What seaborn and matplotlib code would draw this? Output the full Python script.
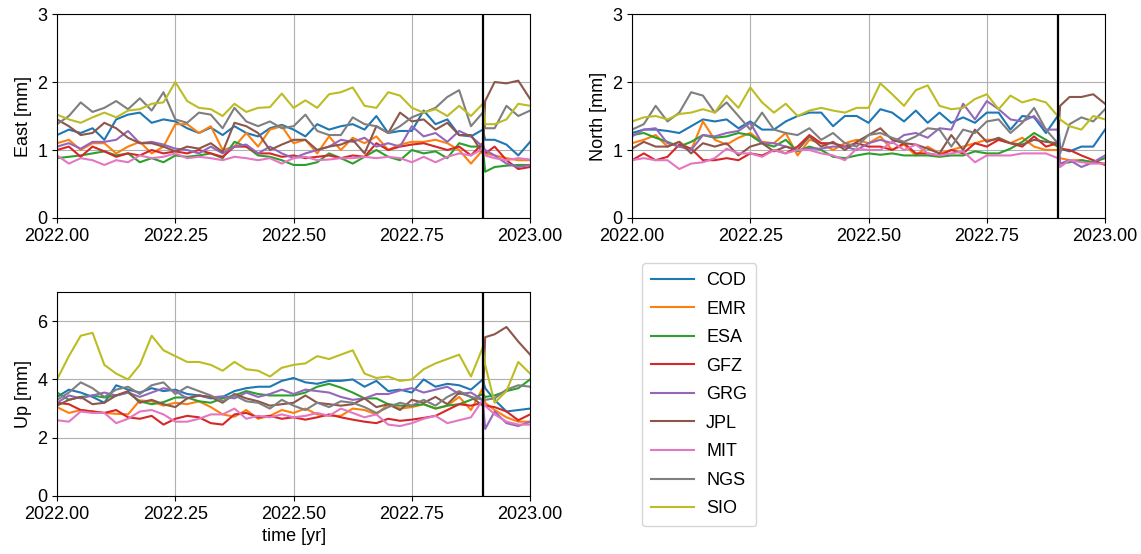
import numpy as np
import pandas as pd
import matplotlib
matplotlib.use("Agg")
import matplotlib.pyplot as plt
import seaborn as sns

plt.rcParams['font.family'] = ['Liberation Sans', 'DejaVu Sans']

centers = ['COD', 'EMR', 'ESA', 'GFZ', 'GRG', 'JPL', 'MIT', 'NGS', 'SIO']

# sample times (fraction of 2022), extra sample right after the 2022.9 event
t_frac = [0.0, 0.025, 0.05, 0.075, 0.1, 0.125, 0.15, 0.175, 0.2, 0.225,
          0.25, 0.275, 0.3, 0.325, 0.35, 0.375, 0.4, 0.425, 0.45, 0.475,
          0.5, 0.525, 0.55, 0.575, 0.6, 0.625, 0.65, 0.675, 0.7, 0.725,
          0.75, 0.775, 0.8, 0.825, 0.85, 0.875, 0.9, 0.905, 0.925, 0.95,
          0.975, 1.0]
event_time = 2022.9

# ---- East [mm]
east_cod = [1.22, 1.30, 1.25, 1.32, 1.15, 1.45, 1.52, 1.55, 1.40, 1.45, 1.42, 1.32, 1.25, 1.33, 1.22, 1.35, 1.25, 1.20, 1.32, 1.37,
            1.30, 1.20, 1.38, 1.30, 1.35, 1.38, 1.30, 1.50, 1.25, 1.28, 1.28, 1.58, 1.38, 1.45, 1.22, 1.20, 1.30, 1.15, 1.15, 1.08, 0.92, 1.12]
east_emr = [1.10, 1.15, 1.00, 1.10, 1.10, 0.95, 1.05, 1.12, 0.95, 1.05, 1.38, 1.38, 1.25, 1.35, 1.00, 1.05, 1.25, 1.05, 1.30, 1.35,
            1.10, 1.15, 0.95, 1.20, 1.00, 1.18, 1.10, 1.20, 1.00, 1.08, 1.12, 1.12, 1.15, 1.10, 1.00, 0.80, 1.00, 0.95, 0.92, 0.88, 0.85, 0.85]
east_esa = [0.88, 0.90, 0.92, 0.95, 0.98, 0.92, 0.95, 0.82, 0.88, 0.82, 0.92, 0.90, 0.92, 0.95, 0.88, 1.12, 1.05, 0.92, 0.90, 0.85,
            0.78, 0.78, 0.82, 0.95, 0.88, 0.80, 0.90, 1.00, 0.90, 0.85, 1.00, 0.95, 0.98, 0.88, 1.10, 1.05, 1.05, 0.68, 0.75, 0.77, 0.78, 0.78]
east_gfz = [1.00, 1.05, 0.90, 1.05, 0.98, 0.90, 0.95, 0.92, 1.00, 0.95, 0.98, 0.95, 1.00, 0.95, 0.90, 1.05, 1.05, 0.95, 0.95, 0.90,
            0.92, 0.88, 0.90, 0.92, 0.88, 0.92, 0.90, 1.10, 1.00, 1.05, 1.08, 1.10, 1.05, 1.00, 1.05, 0.92, 1.10, 0.95, 1.05, 0.85, 0.72, 0.75]
east_grg = [1.05, 1.10, 1.02, 1.12, 1.12, 1.15, 1.28, 1.10, 1.12, 1.08, 1.02, 1.00, 0.95, 1.05, 0.95, 1.05, 1.08, 0.95, 1.05, 0.95,
            0.88, 0.95, 1.00, 1.05, 1.15, 1.12, 1.18, 1.05, 1.10, 1.05, 1.35, 1.20, 1.25, 1.12, 1.28, 1.20, 1.05, 1.00, 0.92, 0.80, 0.75, 0.78]
east_jpl = [1.45, 1.35, 1.22, 1.25, 1.40, 1.32, 1.18, 1.10, 1.10, 1.05, 0.98, 1.05, 1.02, 1.10, 0.97, 1.40, 1.35, 1.25, 1.00, 1.08,
            1.15, 1.15, 1.00, 1.05, 1.08, 1.15, 0.95, 1.35, 1.25, 1.55, 1.42, 1.45, 1.30, 1.40, 1.22, 1.22, 0.95, 1.72, 2.00, 1.98, 2.02, 1.75]
east_mit = [0.92, 0.80, 0.88, 0.85, 0.78, 0.85, 0.82, 0.92, 0.88, 0.90, 0.95, 0.88, 0.90, 0.88, 0.85, 0.90, 0.88, 0.85, 0.88, 0.80,
            0.88, 0.90, 0.85, 0.86, 0.88, 0.88, 0.90, 0.88, 0.90, 0.88, 0.82, 0.90, 0.82, 0.90, 0.95, 0.92, 1.02, 0.92, 0.88, 0.85, 0.88, 0.86]
east_ngs = [1.38, 1.50, 1.70, 1.56, 1.62, 1.72, 1.60, 1.76, 1.58, 1.85, 1.45, 1.40, 1.55, 1.52, 1.32, 1.62, 1.42, 1.35, 1.42, 1.32,
            1.35, 1.52, 1.28, 1.22, 1.22, 1.48, 1.38, 1.35, 1.25, 1.35, 1.48, 1.55, 1.62, 1.78, 1.88, 1.35, 1.55, 1.32, 1.32, 1.65, 1.50, 1.58]
east_sio = [1.52, 1.45, 1.40, 1.48, 1.55, 1.48, 1.58, 1.60, 1.68, 1.70, 2.00, 1.72, 1.62, 1.60, 1.50, 1.68, 1.56, 1.62, 1.63, 1.83,
            1.62, 1.73, 1.62, 1.82, 1.85, 1.92, 1.65, 1.62, 1.85, 1.80, 1.62, 1.55, 1.60, 1.50, 1.65, 1.50, 1.68, 1.38, 1.38, 1.45, 1.68, 1.65]

# ---- North [mm]
north_cod = [1.25, 1.30, 1.30, 1.28, 1.25, 1.35, 1.45, 1.42, 1.45, 1.32, 1.42, 1.30, 1.30, 1.42, 1.50, 1.55, 1.55, 1.35, 1.50, 1.50,
             1.40, 1.60, 1.55, 1.42, 1.58, 1.40, 1.55, 1.40, 1.48, 1.40, 1.55, 1.55, 1.30, 1.50, 1.48, 1.25, 1.50, 1.02, 0.98, 1.05, 1.05, 1.30]
north_emr = [1.10, 1.15, 1.22, 1.05, 1.12, 1.00, 1.42, 1.15, 1.08, 1.18, 1.25, 1.12, 1.10, 1.25, 0.92, 1.15, 1.10, 1.00, 1.10, 1.15,
             1.10, 1.20, 1.00, 1.08, 0.92, 1.05, 0.95, 1.00, 1.05, 1.10, 1.15, 1.15, 1.10, 1.18, 1.05, 1.00, 1.00, 0.88, 0.85, 0.85, 0.82, 0.80]
north_esa = [1.22, 1.25, 1.18, 1.12, 1.05, 1.12, 1.22, 1.18, 1.20, 1.25, 1.22, 1.10, 1.05, 1.15, 0.98, 1.05, 1.00, 0.90, 0.88, 0.92,
             0.95, 0.93, 0.95, 0.92, 0.92, 0.92, 0.90, 0.92, 0.92, 0.98, 0.95, 0.95, 1.02, 1.12, 1.25, 1.15, 1.05, 0.80, 0.82, 0.85, 0.82, 0.88]
north_gfz = [0.85, 0.95, 0.85, 0.90, 1.08, 1.02, 0.85, 0.85, 0.88, 0.85, 0.95, 0.92, 1.00, 0.95, 1.05, 1.22, 1.10, 1.10, 1.05, 1.10,
             1.05, 1.05, 1.00, 1.10, 0.95, 0.95, 0.92, 1.00, 0.95, 1.10, 1.05, 1.15, 1.10, 1.05, 1.20, 1.05, 1.10, 1.02, 1.00, 0.92, 0.85, 0.78]
north_grg = [1.20, 1.30, 1.32, 1.10, 1.05, 1.00, 1.22, 1.20, 1.25, 1.28, 1.40, 1.10, 1.10, 1.05, 1.00, 1.02, 1.02, 1.05, 1.05, 1.00,
             1.10, 1.15, 1.10, 1.22, 1.25, 1.18, 1.32, 1.30, 1.68, 1.45, 1.72, 1.60, 1.45, 1.42, 1.50, 1.30, 1.30, 0.80, 0.85, 0.75, 0.82, 0.92]
north_jpl = [1.02, 1.12, 1.05, 1.05, 1.12, 0.95, 1.10, 1.05, 1.10, 0.92, 1.05, 1.10, 0.98, 1.05, 1.00, 1.20, 1.05, 1.12, 1.00, 1.12,
             1.22, 1.32, 1.15, 1.10, 1.08, 1.02, 0.95, 1.22, 1.00, 1.30, 1.12, 1.18, 1.10, 1.08, 1.15, 1.12, 1.10, 1.65, 1.78, 1.78, 1.82, 1.68]
north_mit = [0.85, 0.88, 0.85, 0.85, 0.72, 0.80, 0.82, 0.88, 1.02, 0.95, 0.95, 0.90, 1.00, 0.95, 1.00, 1.00, 0.95, 0.92, 0.85, 1.02,
             1.00, 1.00, 1.12, 1.00, 1.08, 0.95, 0.92, 0.95, 0.98, 0.82, 0.92, 0.92, 0.92, 0.95, 0.95, 0.95, 0.88, 0.75, 0.85, 0.82, 0.80, 0.80]
north_ngs = [1.30, 1.38, 1.65, 1.42, 1.55, 1.85, 1.80, 1.55, 1.70, 1.50, 1.30, 1.55, 1.30, 1.25, 1.22, 1.32, 1.15, 1.25, 1.10, 1.05,
             1.22, 1.25, 1.18, 1.12, 1.20, 1.32, 1.30, 1.05, 1.30, 1.25, 1.42, 1.45, 1.25, 1.40, 1.62, 1.30, 1.10, 0.95, 1.38, 1.48, 1.42, 1.60]
north_sio = [1.42, 1.48, 1.50, 1.45, 1.53, 1.55, 1.60, 1.55, 1.80, 1.62, 1.92, 1.70, 1.55, 1.68, 1.50, 1.58, 1.62, 1.58, 1.55, 1.62,
             1.62, 1.98, 1.82, 1.65, 1.88, 1.95, 1.65, 1.60, 1.62, 1.75, 1.82, 1.60, 1.80, 1.70, 1.75, 1.70, 1.50, 1.45, 1.35, 1.30, 1.50, 1.45]

# ---- Up [mm]
up_cod = [3.40, 3.65, 3.55, 3.40, 3.20, 3.80, 3.65, 3.55, 3.70, 3.60, 3.65, 3.50, 3.45, 3.35, 3.40, 3.60, 3.70, 3.75, 3.75, 3.95,
          4.05, 3.90, 3.85, 3.95, 3.95, 4.00, 3.75, 3.95, 3.60, 3.65, 3.55, 4.00, 3.75, 3.85, 3.80, 3.65, 4.00, 3.70, 3.30, 2.90, 2.95, 3.00]
up_emr = [3.05, 2.85, 2.95, 2.90, 2.85, 2.82, 2.80, 3.28, 3.25, 3.10, 3.20, 3.15, 3.25, 3.05, 2.80, 2.72, 2.95, 2.65, 2.75, 2.95,
          2.85, 3.00, 2.80, 2.75, 2.75, 3.00, 2.95, 2.80, 3.15, 3.00, 3.05, 3.15, 3.00, 3.10, 3.40, 2.95, 3.70, 3.20, 2.95, 2.70, 2.55, 2.55]
up_esa = [3.55, 3.30, 3.40, 3.45, 3.38, 3.45, 3.55, 3.25, 3.15, 3.22, 3.38, 3.38, 3.25, 3.20, 3.35, 3.45, 3.60, 3.50, 3.45, 3.45,
          3.45, 3.55, 3.75, 3.85, 3.72, 3.55, 3.35, 3.35, 3.15, 3.10, 3.10, 3.15, 3.00, 3.10, 3.15, 3.30, 3.50, 3.40, 3.45, 3.60, 3.70, 4.00]
up_gfz = [3.20, 3.15, 2.95, 2.90, 2.85, 2.95, 2.70, 2.65, 2.75, 2.45, 2.65, 2.75, 2.70, 2.50, 2.45, 2.80, 2.85, 2.70, 2.75, 2.65,
          2.70, 2.62, 2.70, 2.80, 2.70, 2.62, 2.55, 2.50, 2.65, 2.58, 2.62, 2.68, 2.75, 2.95, 3.15, 3.10, 3.20, 3.10, 3.05, 2.90, 2.60, 2.80]
up_grg = [3.20, 3.45, 3.35, 3.45, 3.55, 3.45, 3.55, 3.40, 3.55, 3.70, 3.60, 3.35, 3.45, 3.38, 3.42, 3.35, 3.55, 3.40, 3.50, 3.65,
          3.50, 3.65, 3.60, 3.55, 3.40, 3.30, 3.35, 3.50, 3.50, 3.62, 3.70, 3.55, 3.65, 3.75, 3.50, 3.55, 3.30, 2.30, 2.90, 2.50, 2.40, 2.55]
up_jpl = [3.10, 3.30, 3.40, 3.15, 3.20, 3.45, 3.60, 3.20, 3.30, 3.15, 3.05, 3.35, 3.45, 3.40, 3.20, 3.50, 3.35, 3.25, 3.10, 3.15,
          3.20, 3.45, 3.20, 3.15, 3.10, 3.15, 3.35, 3.05, 3.15, 2.95, 3.30, 3.20, 3.40, 3.15, 3.55, 3.40, 3.10, 5.45, 5.55, 5.80, 5.30, 4.85]
up_mit = [2.60, 2.55, 2.90, 2.85, 2.85, 2.50, 2.65, 2.90, 2.95, 2.80, 2.55, 2.55, 2.65, 2.80, 2.80, 3.00, 2.65, 2.75, 2.70, 2.80,
          2.70, 2.75, 2.85, 2.75, 3.00, 2.85, 2.70, 2.80, 2.45, 2.40, 2.50, 2.65, 2.75, 2.50, 2.60, 2.70, 3.30, 3.10, 2.80, 2.55, 2.45, 2.45]
up_ngs = [3.30, 3.55, 3.90, 3.70, 3.40, 3.65, 3.75, 3.50, 3.80, 3.90, 3.50, 3.75, 3.60, 3.45, 3.25, 3.45, 3.25, 3.20, 3.00, 3.30,
          3.10, 2.95, 3.20, 3.05, 3.25, 3.20, 3.05, 2.85, 3.05, 3.20, 3.10, 3.30, 3.10, 3.40, 3.60, 3.40, 3.30, 3.30, 3.35, 3.65, 3.80, 3.75]
up_sio = [4.00, 4.80, 5.50, 5.60, 4.50, 4.20, 4.00, 4.50, 5.50, 5.00, 4.80, 4.60, 4.60, 4.50, 4.30, 4.60, 4.35, 4.30, 4.10, 4.40,
          4.50, 4.55, 4.80, 4.70, 4.85, 5.00, 4.20, 4.05, 4.10, 3.95, 4.00, 4.35, 4.55, 4.70, 4.85, 4.10, 5.10, 4.50, 3.20, 3.60, 4.60, 4.20]

east = [east_cod, east_emr, east_esa, east_gfz, east_grg, east_jpl, east_mit, east_ngs, east_sio]
north = [north_cod, north_emr, north_esa, north_gfz, north_grg, north_jpl, north_mit, north_ngs, north_sio]
up = [up_cod, up_emr, up_esa, up_gfz, up_grg, up_jpl, up_mit, up_ngs, up_sio]

time = 2022 + np.array(t_frac)


def to_long(series):
    rows = []
    for name, vals in zip(centers, series):
        for t, v in zip(time, vals):
            rows.append((t, v, name))
    return pd.DataFrame(rows, columns=['time', 'value', 'center'])


fig = plt.figure(figsize=(11.41, 5.54), dpi=100)
ax_e = fig.add_axes([0.050, 0.6065, 0.4146, 0.3682])
ax_n = fig.add_axes([0.5539, 0.6065, 0.4146, 0.3682])
ax_u = fig.add_axes([0.050, 0.1047, 0.4146, 0.3682])

palette = sns.color_palette('tab10', 9)

panels = [(ax_e, east, 'East [mm]', 3, [0, 1, 2, 3]),
          (ax_n, north, 'North [mm]', 3, [0, 1, 2, 3]),
          (ax_u, up, 'Up [mm]', 7, [0, 2, 4, 6])]

for ax, series, ylab, ymax, yt in panels:
    df = to_long(series)
    sns.lineplot(data=df, x='time', y='value', hue='center', hue_order=centers,
                 palette=palette, linewidth=1.5, ax=ax, legend=(ax is ax_e))
    ax.axvline(event_time, color='black', linewidth=1.6)
    ax.set_xlim(2022, 2023)
    ax.set_ylim(0, ymax)
    ax.set_yticks(yt)
    ax.set_xticks([2022.0, 2022.25, 2022.5, 2022.75, 2023.0])
    ax.set_xticklabels(['%.2f' % v for v in [2022.0, 2022.25, 2022.5, 2022.75, 2023.0]])
    ax.grid(True, color='#b0b0b0', linewidth=0.8)
    ax.set_axisbelow(True)
    ax.tick_params(labelsize=13)
    ax.set_ylabel(ylab, fontsize=13)
    ax.set_xlabel('')

ax_u.set_xlabel('time [yr]', fontsize=13)

handles, labels = ax_e.get_legend_handles_labels()
ax_e.get_legend().remove()
fig.legend(handles, labels, loc='upper left', bbox_to_anchor=(0.5627, 0.5253),
           borderaxespad=0, fontsize=13, handlelength=2.4, handletextpad=0.65,
           labelspacing=0.64, borderpad=0.5, frameon=True)

fig.savefig('out.png', dpi=100)
